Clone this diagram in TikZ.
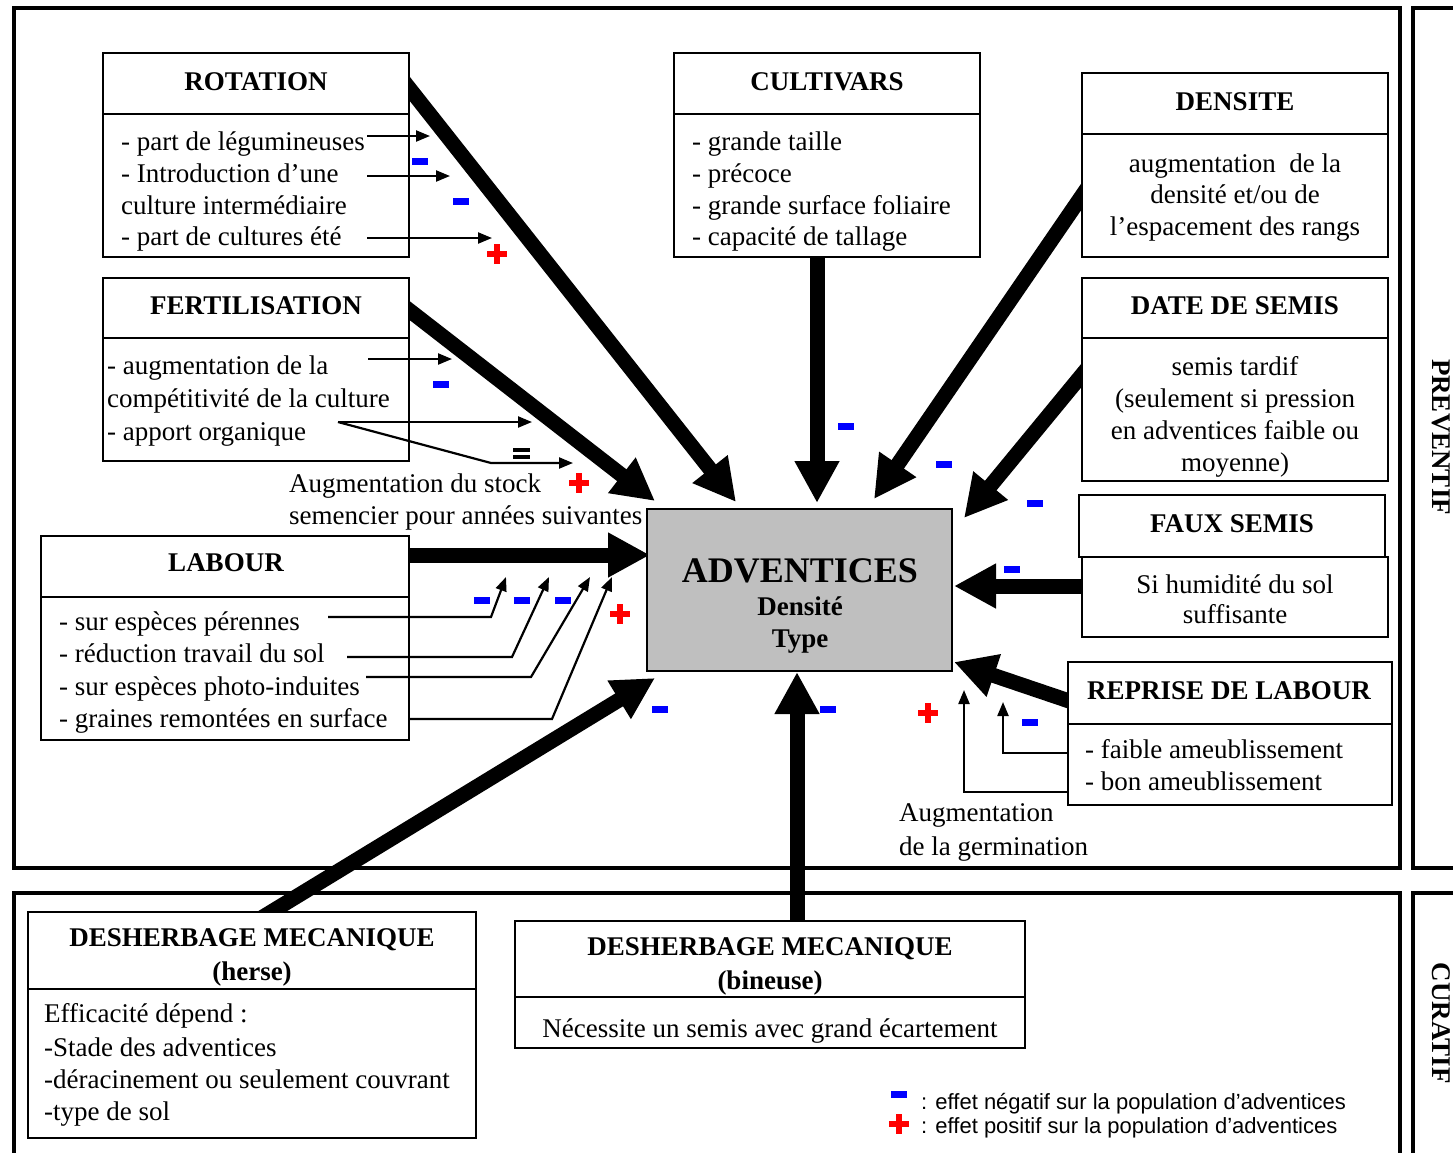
\documentclass[tikz,border=0pt]{standalone}
\usepackage{fontspec}
\setmainfont{Liberation Serif}
\newfontfamily\legendfont{Liberation Sans}
\usetikzlibrary{arrows.meta}
\begin{document}
\begin{tikzpicture}[x=1pt,y=-1pt,
  frame/.style={draw, line width=4pt},
  bx/.style={draw, fill=white, line width=2.2pt, anchor=north west, inner sep=0pt, outer sep=0pt},
  ttl/.style={anchor=base, inner sep=0pt, font=\fontsize{27}{32}\selectfont\bfseries},
  txt/.style={anchor=base west, inner sep=0pt, font=\fontsize{27}{32}\selectfont},
  ctxt/.style={anchor=base, inner sep=0pt, font=\fontsize{27}{32}\selectfont},
  big/.style={line width=15pt, -{Triangle[length=42pt,width=42pt]}},
  thin/.style={line width=2.2pt, -{Triangle[length=14pt,width=11pt]}},
  mns/.pic={\fill[blue] (-8,-3.5) rectangle (8,3.5);},
  pls/.pic={\fill[red] (-10,-3) rectangle (10,3); \fill[red] (-3,-10) rectangle (3,10);},
]
\useasboundingbox (0,0) rectangle (1453,1152);
\clip (0,0) rectangle (1453,1152);
\fill[white] (0,0) rectangle (1453,1152);

% frames
\draw[frame] (14,8) rectangle (1400,868);
\draw[frame] (1413,8) rectangle (1490,868);
\draw[frame] (14,893) rectangle (1400,1190);
\draw[frame] (1413,893) rectangle (1490,1190);
\node[rotate=-90, inner sep=0pt, font=\fontsize{27}{32}\selectfont\bfseries] (prev) at (1441,437) {PREVENTIF};
\node[rotate=-90, inner sep=0pt, font=\fontsize{27}{32}\selectfont\bfseries] (cur) at (1441,1023) {CURATIF};

% coordinates for thick arrows
\coordinate (sRot) at (398,74);
\coordinate (tRot) at (736,502);
\coordinate (sFert) at (396,300);
\coordinate (tFert) at (655,501);
\coordinate (sLab) at (400,555);
\coordinate (tLab) at (650,555);
\coordinate (sCult) at (817,250);
\coordinate (tCult) at (817,503);
\coordinate (sDens) at (1090,184);
\coordinate (tDens) at (874,499);
\coordinate (sDate) at (1090,365);
\coordinate (tDate) at (964,518);
\coordinate (sFaux) at (1090,586);
\coordinate (tFaux) at (954,586);
\coordinate (sRep) at (1078,704);
\coordinate (tRep) at (954,662);
\coordinate (sHer) at (258,920);
\coordinate (tHer) at (655,678);
\coordinate (sBin) at (797,930);
\coordinate (tBin) at (797,672);

\draw[big] (sRot) -- (tRot);
\draw[big] (sFert) -- (tFert);
\draw[big] (sLab) -- (tLab);
\draw[big] (sCult) -- (tCult);
\draw[big] (sDens) -- (tDens);
\draw[big] (sDate) -- (tDate);
\draw[big] (sFaux) -- (tFaux);
\draw[big] (sRep) -- (tRep);
\draw[big] (sHer) -- (tHer);
\draw[big] (sBin) -- (tBin);

% central box
\node[bx, fill=black!25, minimum width=305pt, minimum height=162pt] (adv) at (647,509) {};
\node[ttl, font=\fontsize{36}{40}\selectfont\bfseries] (advT) at (800,582) {ADVENTICES};
\node[ttl] (advD) at (800,615) {Densité};
\node[ttl] (advY) at (800,647) {Type};

% boxes
\node[bx, minimum width=306pt, minimum height=61pt] (rotH) at (103,53) {};
\node[bx, minimum width=306pt, minimum height=143pt] (rotB) at (103,114) {};
\node[bx, minimum width=306pt, minimum height=61pt] (cultH) at (674,53) {};
\node[bx, minimum width=306pt, minimum height=143pt] (cultB) at (674,114) {};
\node[bx, minimum width=306pt, minimum height=61pt] (densH) at (1082,73) {};
\node[bx, minimum width=306pt, minimum height=123pt] (densB) at (1082,134) {};
\node[bx, minimum width=306pt, minimum height=60pt] (dateH) at (1082,278) {};
\node[bx, minimum width=306pt, minimum height=143pt] (dateB) at (1082,338) {};
\node[bx, minimum width=306pt, minimum height=62pt] (fauxH) at (1079,495) {};
\node[bx, minimum width=306pt, minimum height=80pt] (fauxB) at (1082,557) {};
\node[bx, minimum width=324pt, minimum height=62pt] (repH) at (1068,662) {};
\node[bx, minimum width=324pt, minimum height=81pt] (repB) at (1068,724) {};
\node[bx, minimum width=306pt, minimum height=60pt] (fertH) at (103,278) {};
\node[bx, minimum width=306pt, minimum height=123pt] (fertB) at (103,338) {};
\node[bx, minimum width=368pt, minimum height=61pt] (labH) at (41,536) {};
\node[bx, minimum width=368pt, minimum height=143pt] (labB) at (41,597) {};
\node[bx, minimum width=448pt, minimum height=77pt] (herH) at (28,912) {};
\node[bx, minimum width=448pt, minimum height=149pt] (herB) at (28,989) {};
\node[bx, minimum width=510pt, minimum height=76pt] (binH) at (515,921) {};
\node[bx, minimum width=510pt, minimum height=51pt] (binB) at (515,997) {};

% titles
\node[ttl] (rotT) at (256,90) {ROTATION};
\node[ttl] (cultT) at (827,90) {CULTIVARS};
\node[ttl] (densT) at (1235,110) {DENSITE};
\node[ttl] (dateT) at (1235,314) {DATE DE SEMIS};
\node[ttl] (fauxT) at (1232,532) {FAUX SEMIS};
\node[ttl] (repT) at (1229,699) {REPRISE DE LABOUR};
\node[ttl] (fertT) at (256,314) {FERTILISATION};
\node[ttl] (labT) at (226,571) {LABOUR};
\node[ttl] (herT1) at (252,946) {DESHERBAGE MECANIQUE};
\node[ttl] (herT2) at (252,980) {(herse)};
\node[ttl] (binT1) at (770,955) {DESHERBAGE MECANIQUE};
\node[ttl] (binT2) at (770,989) {(bineuse)};

% body texts
\node[txt] (r1) at (121,150) {- part de légumineuses};
\node[txt] (r2) at (121,182) {- Introduction d’une};
\node[txt] (r3) at (121,214) {culture intermédiaire};
\node[txt] (r4) at (121,245) {- part de cultures été};
\node[txt] (c1) at (692,150) {- grande taille};
\node[txt] (c2) at (692,182) {- précoce};
\node[txt] (c3) at (692,214) {- grande surface foliaire};
\node[txt] (c4) at (692,245) {- capacité de tallage};
\node[ctxt] (d1) at (1235,172) {augmentation\ \ de la};
\node[ctxt] (d2) at (1235,203) {densité et/ou de};
\node[ctxt] (d3) at (1235,235) {l’espacement des rangs};
\node[ctxt] (s1) at (1235,375) {semis tardif};
\node[ctxt] (s2) at (1235,407) {(seulement si pression};
\node[ctxt] (s3) at (1235,439) {en adventices faible ou};
\node[ctxt] (s4) at (1235,471) {moyenne)};
\node[ctxt] (f1) at (1235,593) {Si humidité du sol};
\node[ctxt] (f2) at (1235,623) {suffisante};
\node[txt] (p1) at (1085,758) {- faible ameublissement};
\node[txt] (p2) at (1085,790) {- bon ameublissement};
\node[txt] (e1) at (107,374) {- augmentation de la};
\node[txt] (e2) at (107,407) {compétitivité de la culture};
\node[txt] (e3) at (107,440) {- apport organique};
\node[txt] (l1) at (59,630) {- sur espèces pérennes};
\node[txt] (l2) at (59,662) {- réduction travail du sol};
\node[txt] (l3) at (59,695) {- sur espèces photo-induites};
\node[txt] (l4) at (59,727) {- graines remontées en surface};
\node[txt] (h1) at (44,1022) {Efficacité dépend :};
\node[txt] (h2) at (44,1056) {-Stade des adventices};
\node[txt] (h3) at (44,1088) {-déracinement ou seulement couvrant};
\node[txt] (h4) at (44,1120) {-type de sol};
\node[ctxt] (b1) at (770,1037) {Nécessite un semis avec grand écartement};
\node[txt] (st1) at (289,492) {Augmentation du stock};
\node[txt] (st2) at (289,524) {semencier pour années suivantes};
\node[txt] (g1) at (899,821) {Augmentation};
\node[txt] (g2) at (899,855) {de la germination};

% thin arrows (rotation)
\coordinate (ra1) at (367,136); \coordinate (rb1) at (430,136);
\coordinate (ra2) at (367,176); \coordinate (rb2) at (450,176);
\coordinate (ra3) at (367,238); \coordinate (rb3) at (492,238);
\draw[thin] (ra1) -- (rb1);
\draw[thin] (ra2) -- (rb2);
\draw[thin] (ra3) -- (rb3);
% fertilisation
\coordinate (fa1) at (368,359); \coordinate (fb1) at (452,359);
\coordinate (fa2) at (338,422); \coordinate (fb2) at (532,422);
\coordinate (fk3) at (491,463); \coordinate (fb3) at (573,463);
\draw[thin] (fa1) -- (fb1);
\draw[thin] (fa2) -- (fb2);
\draw[thin] (fa2) -- (fk3) -- (fb3);
% labour
\coordinate (la1) at (328,617); \coordinate (lk1) at (491,617); \coordinate (lb1) at (506,577);
\coordinate (la2) at (347,657); \coordinate (lk2) at (512,657); \coordinate (lb2) at (549,577);
\coordinate (la3) at (366,677); \coordinate (lk3) at (531,677); \coordinate (lb3) at (590,577);
\coordinate (la4) at (409,719); \coordinate (lk4) at (552,719); \coordinate (lb4) at (612,577);
\draw[thin] (la1) -- (lk1) -- (lb1);
\draw[thin] (la2) -- (lk2) -- (lb2);
\draw[thin] (la3) -- (lk3) -- (lb3);
\draw[thin] (la4) -- (lk4) -- (lb4);
% reprise
\coordinate (pa1) at (1068,753); \coordinate (pk1) at (1003,753); \coordinate (pb1) at (1003,702);
\coordinate (pa2) at (1068,792); \coordinate (pk2) at (964,792); \coordinate (pb2) at (964,690);
\draw[thin] (pa1) -- (pk1) -- (pb1);
\draw[thin] (pa2) -- (pk2) -- (pb2);

% signs
\foreach \p in {(420,161),(461,201),(441,384),(482,600),(522,600),(563,600),(846,426),(944,464),(1035,503),(1012,569),(1030,722),(660,709),(828,709),(899,1094)}
  \pic at \p {mns};
\foreach \p in {(497,254),(579,483),(620,614),(928,713),(899,1124)}
  \pic at \p {pls};
\fill (513,448) rectangle (530,451.5);
\fill (513,455) rectangle (530,458.5);

% legend
\node[anchor=base west, inner sep=0pt, font=\legendfont\fontsize{22}{25}\selectfont] (lg1) at (921,1109) {: effet négatif sur la population d’adventices};
\node[anchor=base west, inner sep=0pt, font=\legendfont\fontsize{22}{25}\selectfont] (lg2) at (921,1133) {: effet positif sur la population d’adventices};
\end{tikzpicture}
\end{document}
